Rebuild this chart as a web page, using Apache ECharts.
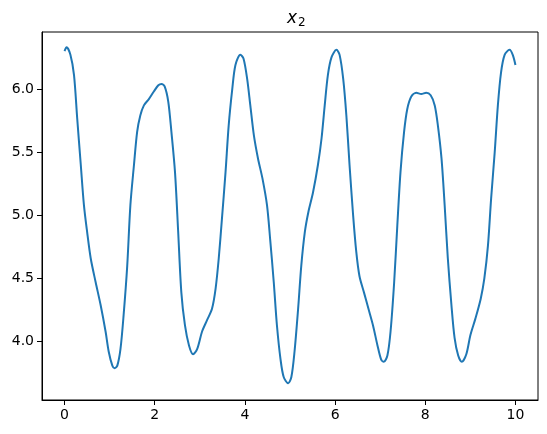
<!DOCTYPE html>
<html>
<head>
<meta charset="utf-8">
<script src="https://cdn.jsdelivr.net/npm/echarts@6/dist/echarts.min.js"></script>
<style>html,body{margin:0;padding:0;background:#fff;}#c{width:547px;height:434px;}</style>
</head>
<body>
<div id="c"></div>
<script>
const xs = [0.00,0.045,0.13,0.21,0.28,0.36,0.43,0.50,0.58,0.69,0.80,0.91,0.98,1.06,1.11,1.17,1.24,1.31,1.39,1.46,1.54,1.61,1.68,1.76,1.87,1.98,2.08,2.15,2.22,2.30,2.37,2.45,2.52,2.59,2.67,2.76,2.85,2.94,3.05,3.16,3.27,3.35,3.42,3.49,3.57,3.64,3.72,3.79,3.90,3.97,4.05,4.12,4.20,4.29,4.39,4.49,4.56,4.64,4.71,4.79,4.86,4.96,5.03,5.10,5.18,5.25,5.33,5.41,5.51,5.62,5.70,5.77,5.84,5.92,6.03,6.10,6.18,6.25,6.32,6.40,6.47,6.54,6.64,6.74,6.84,6.94,7.02,7.08,7.16,7.23,7.31,7.38,7.45,7.53,7.60,7.69,7.80,7.91,8.02,8.12,8.21,8.28,8.36,8.43,8.50,8.58,8.65,8.73,8.81,8.91,9.00,9.11,9.23,9.31,9.39,9.46,9.54,9.61,9.68,9.76,9.87,9.94,10.00];
const ys = [6.30,6.33,6.27,6.11,5.77,5.40,5.08,4.87,4.66,4.47,4.29,4.08,3.92,3.81,3.79,3.81,3.94,4.21,4.60,5.08,5.40,5.66,5.79,5.87,5.92,5.98,6.03,6.04,6.02,5.90,5.66,5.34,4.87,4.39,4.13,3.97,3.90,3.94,4.08,4.17,4.26,4.42,4.66,4.97,5.34,5.71,6.00,6.19,6.27,6.24,6.08,5.87,5.63,5.45,5.29,5.08,4.81,4.47,4.13,3.86,3.72,3.67,3.72,3.92,4.26,4.60,4.87,5.03,5.18,5.40,5.61,5.87,6.11,6.25,6.31,6.27,6.08,5.79,5.40,5.00,4.71,4.52,4.39,4.26,4.13,3.97,3.86,3.84,3.89,4.08,4.47,4.92,5.34,5.66,5.84,5.94,5.97,5.96,5.97,5.95,5.87,5.71,5.45,5.08,4.66,4.29,4.03,3.89,3.84,3.90,4.05,4.18,4.34,4.50,4.76,5.13,5.50,5.87,6.13,6.27,6.31,6.27,6.19];
const xTicks = [0,2,4,6,8,10];
const yTicks = [4.0,4.5,5.0,5.5,6.0];
const titleMain = 'x';
const titleSub = '2';

const data = xs.map((x,i)=>[x, ys[i]]);
const chart = echarts.init(document.getElementById('c'), null, {renderer:'canvas'});
const font = 'DejaVu Sans';
const axisCommon = {
  axisLine:{show:true, onZero:false, lineStyle:{color:'#000', width:1}},
  splitLine:{show:false},
  splitArea:{show:false}
};
chart.setOption({
  animation:false,
  backgroundColor:'#fff',
  title:{
    text:'{a|'+titleMain+'}{b|'+titleSub+'}',
    left:282, top:5,
    textStyle:{
      fontWeight:'normal',
      rich:{
        a:{fontFamily:font, fontSize:17, lineHeight:17, fontStyle:'italic', fontWeight:'normal', color:'#000', verticalAlign:'top'},
        b:{fontFamily:font, fontSize:12, lineHeight:12, fontWeight:'normal', color:'#000', padding:[7,0,0,1], verticalAlign:'top'}
      }
    }
  },
  grid:{left:42, right:9, top:32, bottom:34, containLabel:false, outerBoundsMode:'none',
        show:true, borderColor:'#000', borderWidth:1, backgroundColor:'transparent'},
  xAxis:Object.assign({
    type:'value', min:-0.5, max:10.5, position:'bottom',
    axisTick:{show:true, inside:false, length:5, lineStyle:{color:'#000', width:1}, customValues:xTicks},
    axisLabel:{customValues:xTicks, color:'#000', fontFamily:font, fontSize:14, margin:8, formatter:v=>String(v)}
  }, axisCommon),
  yAxis:Object.assign({
    type:'value', min:3.538, max:6.451, position:'left',
    axisTick:{show:true, inside:false, length:5, lineStyle:{color:'#000', width:1}, customValues:yTicks},
    axisLabel:{customValues:yTicks, color:'#000', fontFamily:font, fontSize:14, margin:8, formatter:v=>v.toFixed(1)}
  }, axisCommon),
  series:[{
    type:'line', data:data, smooth:0.3, showSymbol:false, symbol:'none',
    lineStyle:{color:'#1f77b4', width:2}
  }]
});
</script>
</body>
</html>
